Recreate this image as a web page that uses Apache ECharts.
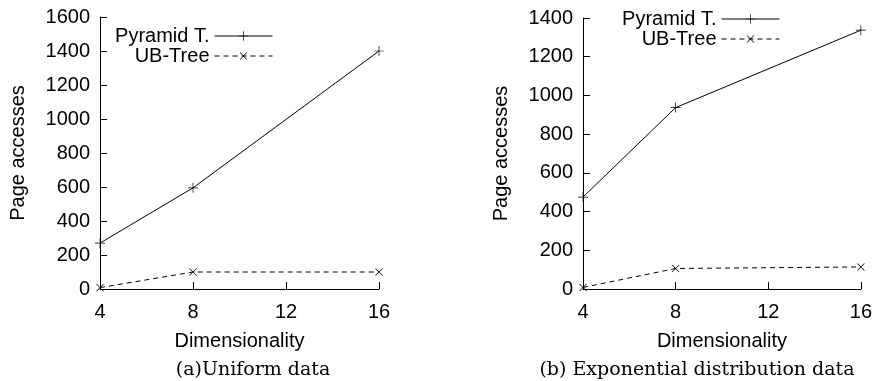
<!DOCTYPE html>
<html>
<head>
<meta charset="utf-8">
<script src="https://cdn.jsdelivr.net/npm/echarts@6/dist/echarts.min.js"></script>
<style>
  html, body { margin: 0; padding: 0; background: #fff; }
  #chart { width: 875px; height: 381px; }
</style>
</head>
<body>
<div id="chart"></div>
<script>
const dims = [4, 8, 16]
const xTicks = [4, 8, 12, 16]
const pyramidUniform = [270, 595, 1400]
const ubUniform = [8, 100, 100]
const pyramidExp = [475, 937, 1337]
const ubExp = [8, 106, 114]
const captions = ['(a)Uniform data', '(b) Exponential distribution data']

const sans = 'Liberation Sans'
const plus = 'path://M-0.07,-1 L0.07,-1 L0.07,1 L-0.07,1 Z M-1,-0.07 L1,-0.07 L1,0.07 L-1,0.07 Z'

const chart = echarts.init(document.getElementById('chart'))

const xAxis = (gridIndex) => ({
  type: 'value',
  gridIndex,
  min: xTicks[0],
  max: xTicks[xTicks.length - 1],
  interval: 4,
  name: 'Dimensionality',
  nameLocation: 'middle',
  nameGap: 42,
  nameTextStyle: { fontFamily: sans, fontSize: 20, color: '#000' },
  axisLine: { lineStyle: { color: '#000', width: 1 } },
  axisTick: { inside: true, length: 7, lineStyle: { color: '#000' } },
  axisLabel: { fontFamily: sans, fontSize: 20, color: '#000', margin: 13 },
  splitLine: { show: false },
})

const yAxis = (gridIndex, max) => ({
  type: 'value',
  gridIndex,
  min: 0,
  max,
  interval: 200,
  name: 'Page accesses',
  nameLocation: 'middle',
  nameGap: 72,
  nameTextStyle: { fontFamily: sans, fontSize: 20, color: '#000' },
  axisLine: { show: true, lineStyle: { color: '#000', width: 1 } },
  axisTick: { show: true, inside: true, length: 7, lineStyle: { color: '#000' } },
  axisLabel: { fontFamily: sans, fontSize: 20, color: '#000', margin: 10, formatter: (v) => String(v) },
  splitLine: { show: false },
})

const lineSeries = (name, values, idx, dashed) => ({
  name,
  type: 'line',
  xAxisIndex: idx,
  yAxisIndex: idx,
  data: dims.map((d, i) => [d, values[i]]),
  symbol: plus,
  symbolSize: 10,
  symbolRotate: dashed ? 45 : 0,
  showAllSymbol: true,
  itemStyle: { color: '#000' },
  lineStyle: { color: '#000', width: 1, type: dashed ? [5, 4] : 'solid' },
  animation: false,
})

const legend = (idx, right, top) => ({
  data: ['Pyramid T.', 'UB-Tree'].map((n) => n + ' ' + idx),
  orient: 'vertical',
  align: 'right',
  right,
  top,
  padding: 0,
  itemWidth: 58,
  itemHeight: 12,
  itemGap: 0,
  lineStyle: { width: 1 },
  formatter: (n) => n.slice(0, -2),
  textStyle: { fontFamily: sans, fontSize: 20, color: '#000' },
})

chart.setOption({
  backgroundColor: '#fff',
  grid: [
    { left: 100, right: 496, top: 17, bottom: 92 },
    { left: 583, right: 13, top: 18, bottom: 92 },
  ],
  xAxis: [xAxis(0), xAxis(1)],
  yAxis: [yAxis(0, 1600), yAxis(1, 1400)],
  legend: [legend(0, 602, 26), legend(1, 95, 9)],
  series: [
    lineSeries('Pyramid T. 0', pyramidUniform, 0, false),
    lineSeries('UB-Tree 0', ubUniform, 0, true),
    lineSeries('Pyramid T. 1', pyramidExp, 1, false),
    lineSeries('UB-Tree 1', ubExp, 1, true),
  ],
  graphic: [
    { type: 'text', x: 253, y: 370, style: { text: captions[0], align: 'center', verticalAlign: 'middle', font: '19px "DejaVu Serif"', fill: '#000' } },
    { type: 'text', x: 697, y: 370, style: { text: captions[1], align: 'center', verticalAlign: 'middle', font: '19px "DejaVu Serif"', fill: '#000' } },
  ],
})
</script>
</body>
</html>
